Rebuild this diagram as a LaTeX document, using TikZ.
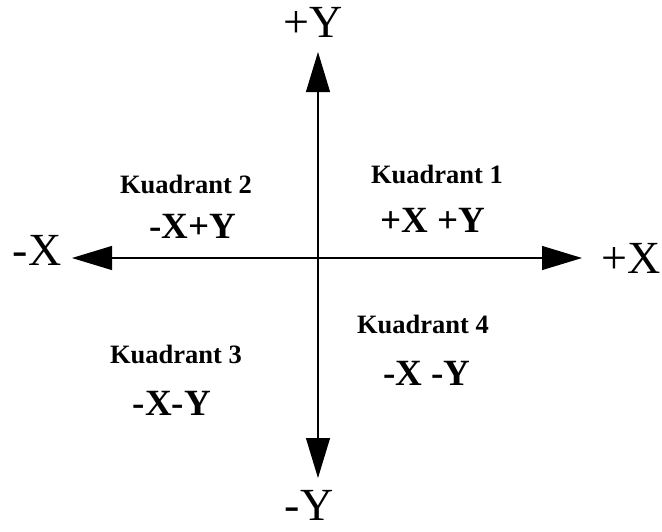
\documentclass[tikz,border=0pt]{standalone}
\usepackage{fontspec}
\setmainfont{Liberation Serif}
\usetikzlibrary{arrows.meta}
\begin{document}
\begin{tikzpicture}[x=1pt,y=-1pt,
  axis/.style={line width=1.1pt,-{Triangle[length=40pt,width=24pt]}},
  axlabel/.style={anchor=base,inner sep=0pt,font=\fontsize{46}{50}\selectfont},
  quadname/.style={anchor=base,inner sep=0pt,font=\bfseries\fontsize{26.5}{30}\selectfont},
  quadsign/.style={anchor=base,inner sep=0pt,font=\bfseries\fontsize{37}{40}\selectfont}]
\useasboundingbox (0,0) rectangle (662,531);
\coordinate (o) at (318,258);
\coordinate (top) at (318,52);
\coordinate (bot) at (318,478);
\coordinate (lft) at (72,258);
\coordinate (rgt) at (582,258);
\draw[axis] (o) -- (top);
\draw[axis] (o) -- (bot);
\draw[axis] (o) -- (lft);
\draw[axis] (o) -- (rgt);
\node[axlabel] (py) at (313,37) {+Y};
\node[axlabel] (my) at (309,520) {-Y};
\node[axlabel] (mx) at (37,265) {-X};
\node[axlabel] (px) at (631,273) {+X};
\node[quadname] (k1) at (437,183) {Kuadrant 1};
\node[quadsign] (s1) at (433,232) {+X +Y};
\node[quadname] (k2) at (186,193) {Kuadrant 2};
\node[quadsign] (s2) at (193,238) {-X+Y};
\node[quadname] (k3) at (176,363) {Kuadrant 3};
\node[quadsign] (s3) at (172,415) {-X-Y};
\node[quadname] (k4) at (423,333) {Kuadrant 4};
\node[quadsign] (s4) at (427,385) {-X -Y};
\end{tikzpicture}
\end{document}
